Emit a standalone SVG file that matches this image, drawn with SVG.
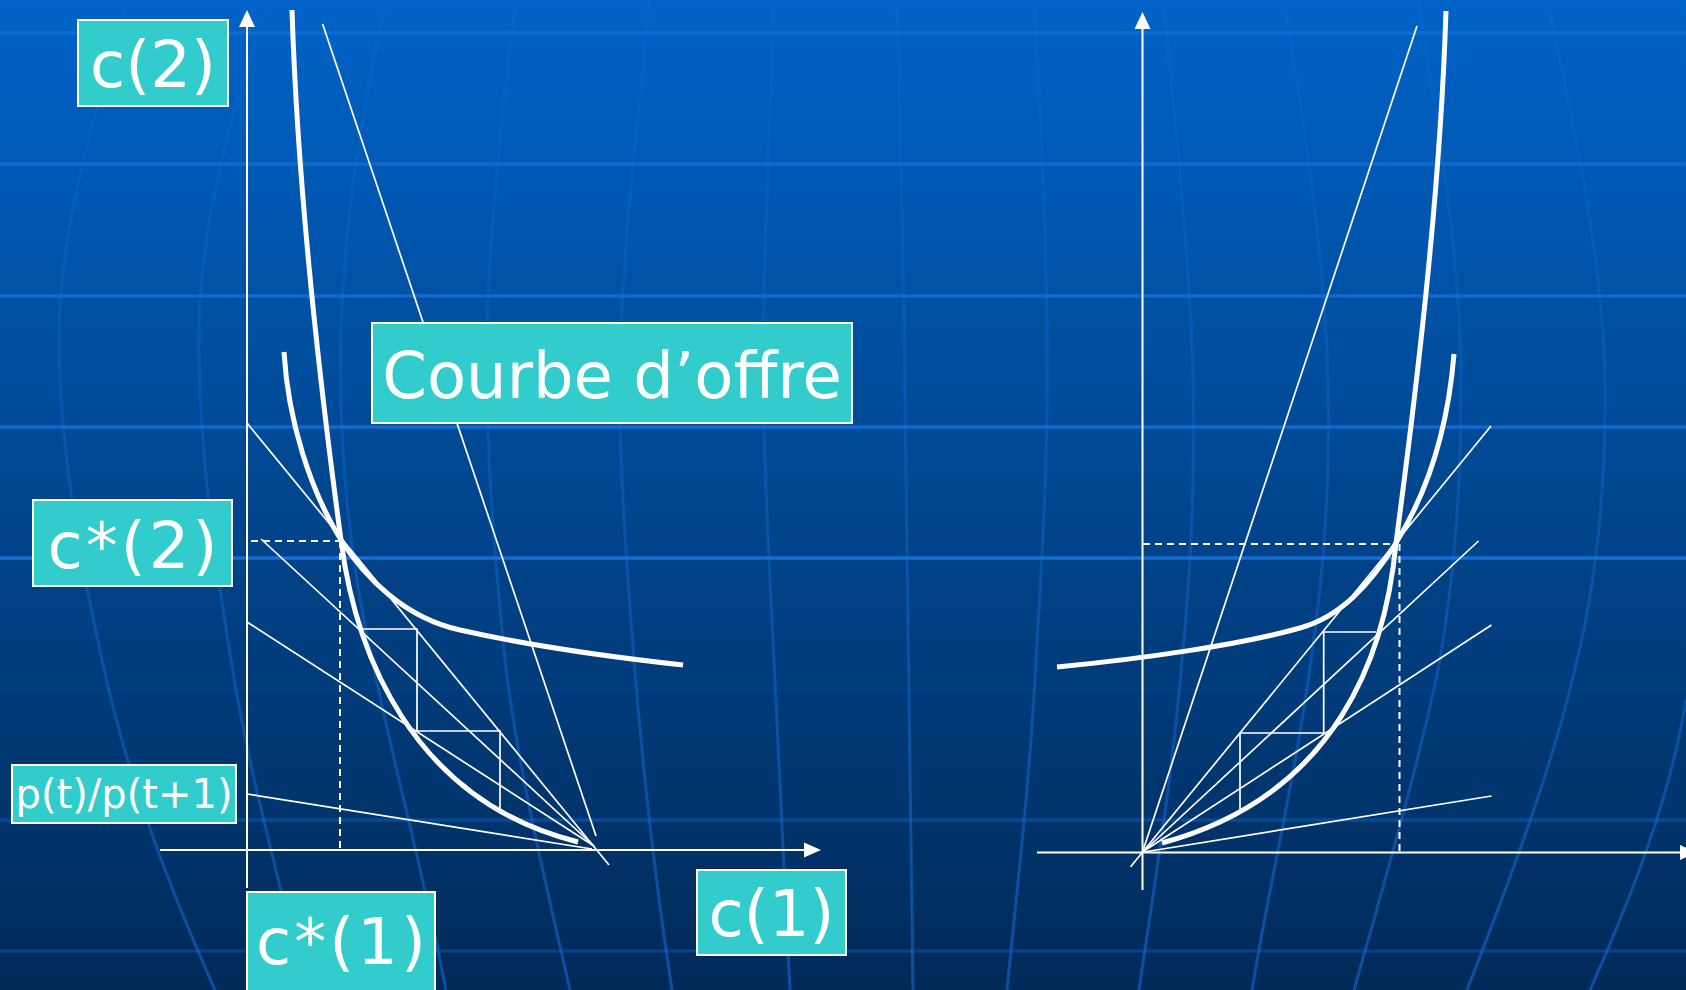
<svg xmlns="http://www.w3.org/2000/svg" width="1686" height="990" viewBox="0 0 1686 990">
<defs>
  <linearGradient id="bg" x1="0" y1="0" x2="0" y2="1">
    <stop offset="0" stop-color="#0063C8"/>
    <stop offset="0.5" stop-color="#00468F"/>
    <stop offset="1" stop-color="#002A58"/>
  </linearGradient>
  <linearGradient id="mer" gradientUnits="userSpaceOnUse" x1="0" y1="0" x2="0" y2="990">
    <stop offset="0" stop-color="#1a7ae6" stop-opacity="0.1"/>
    <stop offset="0.45" stop-color="#1670e0" stop-opacity="0.32"/>
    <stop offset="1" stop-color="#1466d0" stop-opacity="0.62"/>
  </linearGradient>
  <style>
    .hl { stroke:#1a78e8; stroke-width:3.5; fill:none; }
    .mer { stroke:url(#mer); stroke-width:3; fill:none; }
    .axis { stroke:#fff; stroke-width:2; fill:none; }
    .thin { stroke:#fff; stroke-width:1.7; fill:none; }
    .thick { stroke:#fff; stroke-width:5; fill:none; }
    .dash { stroke:#fff; stroke-width:2; fill:none; stroke-dasharray:7 5; }
    .head { fill:#fff; }
    .box { fill:#33CCCC; stroke:#fff; stroke-width:2; }
    .big { font-family:"DejaVu Sans", Verdana, sans-serif; font-size:64px; fill:#fff; text-anchor:middle; }
    .star { letter-spacing:3px; }
    .small { font-family:"DejaVu Sans", Verdana, sans-serif; font-size:40px; fill:#fff; text-anchor:middle; }
  </style>
</defs>

<rect x="0" y="0" width="1686" height="990" fill="url(#bg)"/>

<g id="background-grid">
  <path class="hl" d="M0,33 H1686" stroke-opacity="0.45"/>
  <path class="hl" d="M0,164 H1686" stroke-opacity="0.55"/>
  <path class="hl" d="M0,296 H1686" stroke-opacity="0.62"/>
  <path class="hl" d="M0,427 H1686" stroke-opacity="0.7"/>
  <path class="hl" d="M0,558 H1686" stroke-opacity="0.8"/>
  <path class="hl" d="M0,689 H1686" stroke-opacity="0.08"/>
  <path class="hl" d="M0,820 H1686" stroke-opacity="0.32"/>
  <path class="hl" d="M0,951 H1686" stroke-opacity="0.28"/>

  <path class="mer" d="M129,0 C95,110 60,230 59,330 C58,440 80,560 102,660 C130,790 175,900 215,990"/>
  <path class="mer" d="M271,0 C230,110 200,230 199,330 C198,450 215,560 231,660 C250,780 280,880 305,990"/>
  <path class="mer" d="M387,0 C360,110 344,230 341,330 C338,450 350,560 372,660 C395,770 425,880 446,990"/>
  <path class="mer" d="M516,0 C502,110 489,230 487,330 C485,450 495,560 505,660 C518,770 545,880 570,990"/>
  <path class="mer" d="M650,0 C636,130 622,260 620,360 C618,460 628,580 634,660 C642,760 655,880 672,990"/>
  <path class="mer" d="M774,0 C770,130 763,260 763,360 C763,460 770,580 774,660 C778,760 785,880 790,990"/>
  <path class="mer" d="M897,0 C900,130 904,260 905,400 C906,560 909,760 913,990"/>
  <path class="mer" d="M1034,0 C1042,130 1048,260 1047,400 C1046,520 1038,620 1036,660 C1030,780 1018,880 1007,990"/>
  <path class="mer" d="M1163,0 C1176,130 1190,260 1193,380 C1196,500 1188,600 1182,660 C1172,780 1155,880 1139,990"/>
  <path class="mer" d="M1284,0 C1305,130 1325,260 1328,380 C1331,500 1320,600 1311,660 C1295,780 1270,880 1252,990"/>
  <path class="mer" d="M1418,0 C1440,130 1460,260 1461,380 C1462,500 1450,600 1440,660 C1420,760 1385,880 1354,990"/>
  <path class="mer" d="M1547,0 C1575,130 1603,260 1605,380 C1607,500 1592,600 1577,660 C1555,760 1510,880 1467,990"/>
  <path class="mer" d="M1686,700 C1670,800 1630,900 1590,990"/>
</g>

<g id="connectors">
  <!-- left panel axes -->
  <path class="axis" d="M247,888 V24"/>
  <polygon class="head" points="247,10 239,27 255,27"/>
  <path class="axis" d="M160,850 H806"/>
  <polygon class="head" points="821,850 804,842.5 804,857.5"/>

  <!-- left dashed -->
  <path class="dash" d="M251,541 H341"/>
  <path class="dash" d="M340,541 V850"/>

  <!-- left thin lines -->
  <path class="thin" d="M247,423 L609,865"/>
  <path class="thin" d="M261,539 L594,846"/>
  <path class="thin" d="M247,622 L594,846"/>
  <path class="thin" d="M247,794 L592,849"/>
  <path class="thin" d="M322.6,24 L596,836"/>
  <path class="thin" d="M361,629 H417 V731 H500 V809"/>

  <!-- left thick curves -->
  <path class="thick" d="M292,10 C298,200 322,400 341,540 C355,650 410,800 578,842"/>
  <path class="thick" d="M284,352 C288,420 310,490 341,540 C365,578 405,618 460,630 C522,644 610,657 683,665"/>

  <!-- right panel axes -->
  <path class="axis" d="M1142.5,890 V26"/>
  <polygon class="head" points="1142.5,12 1134.5,29 1150.5,29"/>
  <path class="axis" d="M1037,852.5 H1682"/>
  <polygon class="head" points="1697,852.5 1680,845 1680,860"/>

  <!-- right dashed -->
  <path class="dash" d="M1143,544 H1397"/>
  <path class="dash" d="M1399.5,544 V852"/>

  <!-- right thin lines -->
  <path class="thin" d="M1130.6,866.7 L1491,426"/>
  <path class="thin" d="M1144,851 L1478.5,541"/>
  <path class="thin" d="M1144,851 L1491.5,625"/>
  <path class="thin" d="M1144,852 L1491.5,796"/>
  <path class="thin" d="M1142.5,852 L1417,26"/>
  <path class="thin" d="M1376,632 H1323.7 V733 H1240 V809"/>

  <!-- right thick curves -->
  <path class="thick" d="M1446,11 C1440,200 1415,400 1396,543 C1386,650 1340,795 1162,843"/>
  <path class="thick" d="M1057,667 C1140,659 1240,645 1300,628 C1340,617 1370,585 1396,543 C1422,501 1447,440 1454,354"/>
</g>

<g id="label-c2">
  <rect class="box" x="78" y="20" width="150" height="86"/>
  <text class="big" x="153" y="87">c(2)</text>
</g>
<g id="label-courbe">
  <rect class="box" x="372" y="323" width="480" height="100"/>
  <text class="big" x="612" y="398">Courbe d’offre</text>
</g>
<g id="label-cstar2">
  <rect class="box" x="33" y="500" width="199" height="86"/>
  <text class="big star" x="134" y="568">c*(2)</text>
</g>
<g id="label-ratio">
  <rect class="box" x="12" y="765" width="224" height="58"/>
  <text class="small" x="124" y="808">p(t)/p(t+1)</text>
</g>
<g id="label-cstar1">
  <rect class="box" x="247" y="892" width="188" height="110"/>
  <text class="big star" x="342.5" y="964">c*(1)</text>
</g>
<g id="label-c1">
  <rect class="box" x="697" y="870" width="149" height="85"/>
  <text class="big" x="771.5" y="936">c(1)</text>
</g>
</svg>
